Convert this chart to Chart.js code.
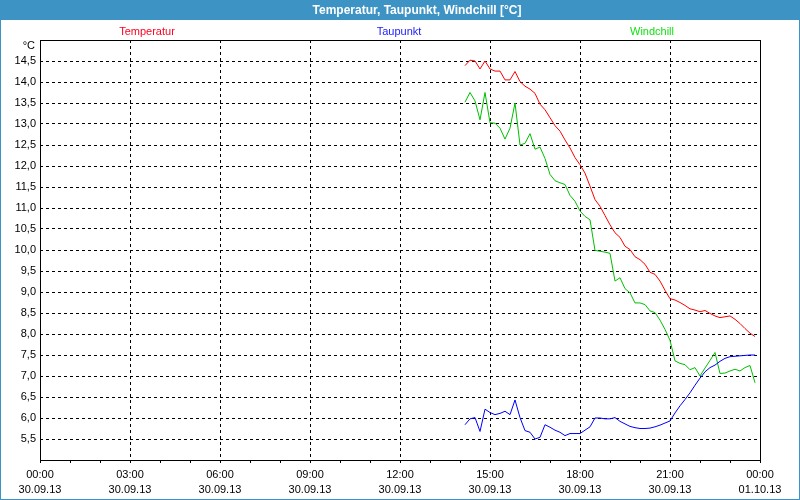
<!DOCTYPE html>
<html><head><meta charset="utf-8">
<script src="https://cdn.jsdelivr.net/npm/chart.js@4/dist/chart.umd.min.js"></script>
<style>html,body{margin:0;padding:0;background:#fff;overflow:hidden;}</style>
</head><body>
<canvas id="c" width="800" height="500"></canvas>
<script>
const chartTitle = 'Temperatur, Taupunkt, Windchill [°C]';
const unitLabel = '°C';
const seriesNames = ['Temperatur', 'Taupunkt', 'Windchill'];
const xTickTimes = ['00:00','03:00','06:00','09:00','12:00','15:00','18:00','21:00','00:00'];
const xTickDates = ['30.09.13','30.09.13','30.09.13','30.09.13','30.09.13','30.09.13','30.09.13','30.09.13','01.10.13'];
const times = ['14:10','14:20','14:30','14:40','14:50',
  '15:00','15:10','15:20','15:30','15:40','15:50',
  '16:00','16:10','16:20','16:30','16:40','16:50',
  '17:00','17:10','17:20','17:30','17:40','17:50',
  '18:00','18:10','18:20','18:30','18:40','18:50',
  '19:00','19:10','19:20','19:30','19:40','19:50',
  '20:00','20:10','20:20','20:30','20:40','20:50',
  '21:00','21:10','21:20','21:30','21:40','21:50',
  '22:00','22:10','22:20','22:30','22:40','22:50',
  '23:00','23:10','23:20','23:30','23:40','23:50'];
const temperatur = [14.39,14.52,14.50,14.31,14.50,
  14.31,14.26,14.26,14.05,14.05,14.25,
  14.01,13.90,13.83,13.73,13.47,13.34,
  13.15,12.96,12.83,12.62,12.43,12.20,
  12.03,11.83,11.52,11.20,11.04,10.82,
  10.60,10.41,10.30,10.09,10.01,9.84,
  9.77,9.66,9.47,9.42,9.26,9.04,
  8.84,8.81,8.75,8.68,8.60,8.57,
  8.53,8.56,8.49,8.43,8.39,8.41,
  8.43,8.35,8.25,8.13,8.02,7.94];
const taupunkt = [5.84,5.98,6.01,5.68,6.21,
  6.13,6.08,6.11,6.16,6.08,6.43,
  6.01,5.70,5.66,5.50,5.54,5.84,
  5.78,5.71,5.66,5.58,5.63,5.63,
  5.63,5.71,5.79,6.00,6.00,5.98,
  5.98,6.01,5.92,5.86,5.80,5.77,
  5.75,5.75,5.76,5.79,5.83,5.88,
  5.93,6.12,6.29,6.44,6.60,6.78,
  6.95,7.10,7.20,7.26,7.35,7.42,
  7.46,7.47,7.48,7.49,7.50,7.50];
const windchill = [13.52,13.75,13.55,13.10,13.75,
  13.03,13.02,12.90,12.64,12.90,13.50,
  12.50,12.54,12.77,12.40,12.45,12.18,
  11.80,11.65,11.60,11.56,11.30,11.16,
  10.93,10.80,10.72,9.99,9.97,9.95,
  9.92,9.26,9.34,9.08,8.98,8.74,
  8.74,8.70,8.55,8.51,8.33,8.11,
  7.85,7.36,7.30,7.27,7.15,7.20,
  7.00,7.19,7.37,7.56,7.06,7.07,
  7.12,7.16,7.12,7.20,7.25,6.84];

const seriesColors = ['#ff0000', '#0000ff', '#00c000'];
const legendColors = ['#ff0020', '#2020ff', '#10e010'];
const legendX = [147, 399, 652];

function toHours(t) { const p = t.split(':'); return +p[0] + (+p[1]) / 60; }
function pts(arr) { return arr.map((v, i) => ({ x: toHours(times[i]), y: v })); }

const FONT = '"Liberation Sans", Arial, sans-serif';
Chart.defaults.font.family = FONT;
Chart.defaults.font.size = 11;
Chart.defaults.color = '#000';

const decor = {
  id: 'decor',
  beforeDraw(chart) {
    const c = chart.ctx;
    c.save();
    c.fillStyle = '#ffffff';
    c.fillRect(0, 0, 800, 500);
    c.fillStyle = '#3c93c4';
    c.fillRect(0, 0, 800, 20);
    c.fillRect(0, 0, 1, 500);
    c.fillRect(799, 0, 1, 500);
    c.fillRect(0, 499, 800, 1);
    c.fillStyle = '#ffffff';
    c.font = 'bold 12px ' + FONT;
    c.textAlign = 'center';
    c.textBaseline = 'middle';
    c.fillText(chartTitle, 417, 10.5);
    c.restore();
  },
  afterDraw(chart) {
    const c = chart.ctx, a = chart.chartArea;
    c.save();
    c.strokeStyle = '#000';
    c.lineWidth = 1;
    c.setLineDash([]);
    c.strokeRect(Math.round(a.left) + 0.5, Math.round(a.top) + 0.5, Math.round(a.right - a.left), Math.round(a.bottom - a.top));
    c.font = '11px ' + FONT;
    c.textBaseline = 'middle';
    c.textAlign = 'center';
    seriesNames.forEach((n, i) => { c.fillStyle = legendColors[i]; c.fillText(n, legendX[i], 32); });
    c.fillStyle = '#000';
    c.textAlign = 'right';
    c.fillText(unitLabel, 35, 46);
    c.restore();
  }
};

new Chart(document.getElementById('c'), {
  type: 'line',
  data: {
    datasets: [
      { label: seriesNames[0], data: pts(temperatur), borderColor: seriesColors[0] },
      { label: seriesNames[1], data: pts(taupunkt), borderColor: seriesColors[1] },
      { label: seriesNames[2], data: pts(windchill), borderColor: seriesColors[2] }
    ].map(d => Object.assign(d, { borderWidth: 1, pointRadius: 0, tension: 0, fill: false }))
  },
  options: {
    responsive: false,
    animation: false,
    devicePixelRatio: 1,
    layout: { padding: { top: 40, right: 40, left: 0, bottom: 0 } },
    plugins: { legend: { display: false }, tooltip: { enabled: false } },
    scales: {
      x: {
        type: 'linear', min: 0, max: 24,
        afterFit(s) { s.height = 40; },
        ticks: {
          stepSize: 1, autoSkip: false, maxRotation: 0, padding: 4,
          font: { size: 11, lineHeight: 1.4 },
          callback(v) { if (v % 3 !== 0) return ''; const i = v / 3; return [xTickTimes[i], xTickDates[i]]; }
        },
        grid: {
          color: (ctx) => (ctx.tick && ctx.tick.value % 3 === 0 && ctx.tick.value > 0 && ctx.tick.value < 24) ? '#000' : 'rgba(0,0,0,0)',
          tickColor: '#000', tickLength: 3, tickBorderDash: [], lineWidth: 1
        },
        border: { display: false, dash: [3, 3] }
      },
      y: {
        type: 'linear', min: 5, max: 15,
        afterFit(s) { s.width = 40; },
        ticks: {
          stepSize: 0.5, autoSkip: false, padding: 4,
          callback(v) { if (v <= 5 || v >= 15) return ''; return v.toFixed(1).replace('.', ','); }
        },
        grid: {
          drawTicks: false,
          color: (ctx) => (ctx.tick && ctx.tick.value > 5 && ctx.tick.value < 15) ? '#000' : 'rgba(0,0,0,0)',
          lineWidth: 1
        },
        border: { display: false, dash: [3, 3] }
      }
    }
  },
  plugins: [decor]
});
</script>
</body></html>
